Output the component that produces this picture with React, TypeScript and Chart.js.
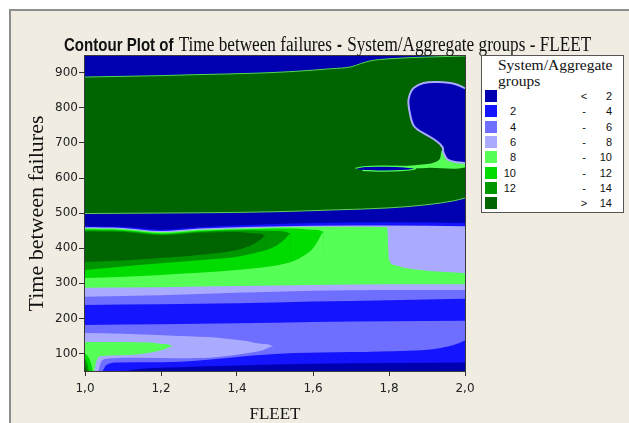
import React, { useEffect, useRef } from 'react';
import { Chart, registerables } from 'chart.js';

Chart.register(...registerables);

type Pt = [number, number];

// ---------- data ----------
const levelColors = ['#0000B0', '#1414FF', '#6E6EFF', '#AAAAFF', '#55FF55', '#00DC00', '#009600', '#006400'];
const legendTitleLines = ['System/Aggregate', 'groups'];
const legendLow = ['', '2', '4', '6', '8', '10', '12', ''];
const legendSep = ['<', '-', '-', '-', '-', '-', '-', '>'];
const legendHigh = ['2', '4', '6', '8', '10', '12', '14', '14'];

const xTicks = [1.0, 1.2, 1.4, 1.6, 1.8, 2.0];
const yTicks = [100, 200, 300, 400, 500, 600, 700, 800, 900];
const xLimits: Pt = [1, 2];
const yLimits: Pt = [50, 948];

// contour boundaries (x = FLEET, y = Time between failures); each fills downward
const topBlue: Pt[] = [[1.0, 948], [2.0, 948]];
const bigGreenTop: Pt[] = [[1.0, 888], [1.1, 890], [1.2, 892], [1.3, 895], [1.45, 899], [1.55, 904], [1.65, 912], [1.7, 917], [1.725, 926], [1.75, 934], [1.8, 940], [1.9, 945], [2.0, 948]];
const bigGreenBottom: Pt[] = [[1.0, 499], [1.15, 500], [1.3, 501], [1.5, 504], [1.65, 509], [1.8, 515], [1.9, 524], [1.97, 535], [2.0, 543]];
const blueBandLower: Pt[] = [[1.0, 463], [1.1, 461], [1.2, 453], [1.3, 460], [1.45, 467], [1.6, 472], [1.8, 474], [2.0, 472]];
const lavUpperTop: Pt[] = [[1.0, 460], [1.1, 458], [1.2, 449], [1.3, 456], [1.45, 461], [1.6, 464], [1.8, 465], [2.0, 463]];
const g810UpperTop: Pt[] = [[1.0, 457], [1.1, 455], [1.2, 446], [1.3, 453], [1.45, 458], [1.6, 461], [1.7, 461], [1.795, 460], [1.8, 368], [1.815, 352], [1.84, 344], [1.9, 336], [1.95, 332], [2.0, 329]];
const g1012Top: Pt[] = [[1.0, 454], [1.1, 452], [1.2, 443], [1.3, 450], [1.45, 455], [1.55, 456], [1.6, 453], [1.627, 447], [1.63, 50], [2.0, 50]];
const g1214Top: Pt[] = [[1.0, 451], [1.1, 449], [1.2, 440], [1.3, 447], [1.4, 451], [1.5, 449], [1.54, 442], [1.543, 50], [2.0, 50]];
const g14Top: Pt[] = [[1.0, 448], [1.1, 446], [1.2, 437], [1.3, 444], [1.4, 446], [1.45, 442], [1.474, 437], [1.477, 50], [2.0, 50]];
const g14Bottom: Pt[] = [[1.0, 361], [1.1, 365], [1.2, 372], [1.3, 381], [1.4, 395], [1.44, 410], [1.465, 427], [1.474, 436], [1.481, 50], [2.0, 50]];
const g1214Bottom: Pt[] = [[1.0, 338], [1.1, 348], [1.2, 357], [1.3, 366], [1.4, 376], [1.45, 387], [1.5, 405], [1.525, 425], [1.54, 440], [1.547, 50], [2.0, 50]];
const g1012Bottom: Pt[] = [[1.0, 315], [1.1, 319], [1.2, 324], [1.3, 330], [1.4, 338], [1.48, 347], [1.54, 360], [1.57, 375], [1.6, 400], [1.615, 425], [1.627, 445], [1.634, 50], [2.0, 50]];
const g810LowerBottom: Pt[] = [[1.0, 287], [1.2, 289], [1.4, 292], [1.6, 295], [1.8, 297], [2.0, 297]];
const lavMidBottom: Pt[] = [[1.0, 262], [1.2, 266], [1.4, 273], [1.6, 279], [1.8, 281], [2.0, 281]];
const blueMidTop: Pt[] = [[1.0, 238], [1.2, 240], [1.4, 243], [1.6, 248], [1.8, 252], [2.0, 256]];
const blueMidBottom: Pt[] = [[1.0, 181], [1.2, 183], [1.4, 186], [1.6, 190], [1.8, 192], [2.0, 193]];
const lavLobeTop: Pt[] = [[1.0, 158], [1.1, 156], [1.25, 150], [1.35, 145], [1.42, 136], [1.47, 127], [1.493, 121], [1.496, 50], [2.0, 50]];
const greenLobeTop: Pt[] = [[1.0, 133], [1.1, 133], [1.17, 131], [1.205, 127], [1.229, 121], [1.232, 50], [2.0, 50]];
const cornerG1012: Pt[] = [[1.0, 100], [1.007, 93], [1.014, 78], [1.019, 58], [1.021, 50], [2.0, 50]];
const cornerG1214: Pt[] = [[1.0, 85], [1.005, 74], [1.009, 58], [1.011, 50], [2.0, 50]];
const cornerG14: Pt[] = [[1.0, 68], [1.003, 58], [1.005, 50], [2.0, 50]];
const greenLobeBottom: Pt[] = [[1.0, 50], [1.024, 50], [1.03, 78], [1.04, 92], [1.1, 95], [1.17, 102], [1.21, 112], [1.229, 120], [1.236, 50], [2.0, 50]];
const lavLobeBottom: Pt[] = [[1.0, 50], [1.034, 50], [1.042, 75], [1.055, 85], [1.12, 88], [1.25, 86], [1.35, 90], [1.43, 101], [1.47, 110], [1.493, 120], [1.5, 50], [2.0, 50]];
const blueLowTop: Pt[] = [[1.0, 50], [1.045, 50], [1.055, 66], [1.085, 74], [1.2, 75], [1.3, 80], [1.45, 95], [1.55, 101], [1.7, 104], [1.85, 108], [1.92, 113], [1.97, 124], [2.0, 137]];
const darkBlueLowTop: Pt[] = [[1.0, 50], [1.1, 50], [1.14, 56], [1.25, 61], [1.4, 66], [1.6, 71], [1.8, 73], [2.0, 74]];

// closed regions inside the upper green area
const rightWedge: Pt[] = [[1.72, 629], [1.8, 634], [1.88, 638], [1.93, 650], [1.94, 680], [1.955, 690], [1.96, 660], [2.0, 652], [2.0, 630], [1.9, 629], [1.8, 625], [1.72, 626]];
const rightBlob: Pt[] = [[2.0, 856], [1.98, 866], [1.962, 871], [1.928, 874], [1.891, 871], [1.864, 856], [1.854, 836], [1.851, 814], [1.856, 779], [1.864, 751], [1.877, 737], [1.901, 722], [1.928, 703], [1.941, 688], [1.943, 674], [1.949, 660], [1.957, 651], [1.98, 645], [2.0, 643]];
const sliver: Pt[] = [[1.711, 628], [1.74, 633], [1.79, 634], [1.84, 632], [1.87, 627], [1.83, 621], [1.77, 620], [1.73, 622]];

type Layer = { pts: Pt[]; level: number; shape?: boolean; edge?: string; edgeWidth?: number };

const layers: Layer[] = [
  { pts: topBlue, level: 0 },
  { pts: bigGreenTop, level: 7, edge: '#4FD84F', edgeWidth: 1 },
  { pts: bigGreenBottom, level: 0, edge: '#5CCF5C', edgeWidth: 1 },
  { pts: blueBandLower, level: 1 },
  { pts: lavUpperTop, level: 3 },
  { pts: g810UpperTop, level: 4 },
  { pts: g1012Top, level: 5 },
  { pts: g1214Top, level: 6 },
  { pts: g14Top, level: 7 },
  { pts: g14Bottom, level: 6 },
  { pts: g1214Bottom, level: 5 },
  { pts: g1012Bottom, level: 4 },
  { pts: g810LowerBottom, level: 3 },
  { pts: lavMidBottom, level: 2 },
  { pts: blueMidTop, level: 1 },
  { pts: blueMidBottom, level: 2 },
  { pts: lavLobeTop, level: 3 },
  { pts: greenLobeTop, level: 4 },
  { pts: cornerG1012, level: 5 },
  { pts: cornerG1214, level: 6 },
  { pts: cornerG14, level: 7 },
  { pts: greenLobeBottom, level: 3 },
  { pts: lavLobeBottom, level: 2 },
  { pts: blueLowTop, level: 1 },
  { pts: darkBlueLowTop, level: 0 },
  { pts: rightWedge, level: 4, shape: true },
  { pts: rightBlob, level: 0, shape: true, edge: '#AAAAFF', edgeWidth: 2 },
  { pts: sliver, level: 0, shape: true, edge: '#55FF55', edgeWidth: 1.2 },
];

const framePlugin = {
  id: 'plotFrame',
  afterDatasetsDraw(chart: any) {
    const { ctx, chartArea: a } = chart;
    ctx.save();
    ctx.strokeStyle = '#3a3a3a';
    ctx.lineWidth = 1;
    ctx.strokeRect(a.left - 0.5, a.top - 0.5, a.right - a.left + 1, a.bottom - a.top + 1);
    ctx.restore();
  },
};

const serif = '"Liberation Serif", "Times New Roman", serif';
const sans = '"DejaVu Sans", Verdana, sans-serif';
const lsans = '"Liberation Sans", Arial, sans-serif';

export default function App() {
  const canvasRef = useRef<HTMLCanvasElement | null>(null);

  useEffect(() => {
    const canvas = canvasRef.current;
    if (!canvas) return;
    const n = layers.length;
    const datasets = layers.map((L, i) => ({
      type: 'line' as const,
      data: L.pts.map(([x, y]) => ({ x, y })),
      backgroundColor: levelColors[L.level],
      borderColor: L.edge ? L.edge : 'rgba(0,0,0,0)',
      borderWidth: L.edge ? (L.edgeWidth as number) : 0,
      pointRadius: 0,
      pointHoverRadius: 0,
      fill: L.shape ? 'shape' : 'start',
      tension: L.shape ? 0.4 : 0,
      cubicInterpolationMode: L.shape ? 'default' : 'monotone',
      order: n - i,
    }));

    const chart = new Chart(canvas, {
      type: 'line',
      data: { datasets: datasets as any },
      options: {
        animation: false,
        responsive: false,
        events: [],
        layout: { padding: { left: 0, top: 56, right: 164, bottom: 0 } },
        plugins: { legend: { display: false }, tooltip: { enabled: false }, title: { display: false } },
        scales: {
          x: {
            type: 'linear',
            min: xLimits[0],
            max: xLimits[1],
            afterBuildTicks: (s: any) => { s.ticks = xTicks.map((v) => ({ value: v })); },
            afterFit: (s: any) => { s.height = 52; },
            ticks: {
              callback: (v: any) => Number(v).toFixed(1).replace('.', ','),
              font: { family: sans, size: 12 },
              color: '#222',
              padding: 6,
              maxRotation: 0,
            },
            grid: { drawOnChartArea: false, drawTicks: true, tickLength: 5, color: '#333' },
            border: { display: false },
            title: { display: true, text: 'FLEET', font: { family: serif, size: 17, lineHeight: 1 }, color: '#111', padding: { top: 0, bottom: 0 } },
          },
          y: {
            type: 'linear',
            min: yLimits[0],
            max: yLimits[1],
            afterBuildTicks: (s: any) => { s.ticks = yTicks.map((v) => ({ value: v })); },
            afterFit: (s: any) => { s.width = 85; },
            ticks: {
              callback: (v: any) => String(v),
              font: { family: sans, size: 12 },
              color: '#222',
              padding: 1,
            },
            grid: { drawOnChartArea: false, drawTicks: true, tickLength: 6, color: '#333' },
            border: { display: false },
            title: { display: true, text: 'Time between failures', font: { family: serif, size: 22 }, color: '#111', padding: { top: 24, bottom: 0 } },
          },
        },
      },
      plugins: [framePlugin],
    } as any);
    return () => chart.destroy();
  }, []);

  return (
    <div style={{ position: 'fixed', left: 0, top: 0, width: 629, height: 423, background: '#ffffff', overflow: 'hidden' }}>
      <div style={{ position: 'absolute', left: 9, top: 9, width: 640, height: 440, background: '#F0ECE2', borderLeft: '2px solid #8e8e8e', borderTop: '2px solid #8e8e8e' }} />
      <canvas ref={canvasRef} width={629} height={423} style={{ position: 'absolute', left: 0, top: 0, width: 629, height: 423 }} />
      <div style={{ position: 'absolute', left: 64, top: 32, whiteSpace: 'nowrap', transform: 'scaleX(0.86)', transformOrigin: 'left top', lineHeight: '24px', color: '#111' }}>
        <span style={{ fontFamily: lsans, fontWeight: 'bold', fontSize: 17.5 }}>Contour Plot of</span>
        <span style={{ fontFamily: serif, fontSize: 20, marginLeft: 6 }}>Time between failures</span>
        <span style={{ fontFamily: lsans, fontWeight: 'bold', fontSize: 17.5, marginLeft: 6 }}>-</span>
        <span style={{ fontFamily: serif, fontSize: 20, marginLeft: 6 }}>System/Aggregate groups - FLEET</span>
      </div>
      <div style={{ position: 'absolute', left: 481, top: 55, width: 143, height: 158, background: '#ffffff', border: '1px solid #555', boxSizing: 'border-box', color: '#111' }}>
        <div style={{ position: 'absolute', left: 16, top: 1, fontFamily: serif, fontSize: 15.5, lineHeight: '16px', whiteSpace: 'nowrap' }}>
          {legendTitleLines.map((t, i) => (<div key={i}>{t}</div>))}
        </div>
        {levelColors.map((c, i) => {
          const top = 34 + i * 15.3;
          return (
            <React.Fragment key={i}>
              <div style={{ position: 'absolute', left: 3, top, width: 12, height: 12, background: c }} />
              <div style={{ position: 'absolute', left: 0, top, width: 34, height: 12, lineHeight: '12px', textAlign: 'right', fontFamily: lsans, fontSize: 11 }}>{legendLow[i]}</div>
              <div style={{ position: 'absolute', left: 92, top, width: 20, height: 12, lineHeight: '12px', textAlign: 'center', fontFamily: lsans, fontSize: 11 }}>{legendSep[i]}</div>
              <div style={{ position: 'absolute', left: 100, top, width: 30, height: 12, lineHeight: '12px', textAlign: 'right', fontFamily: lsans, fontSize: 11 }}>{legendHigh[i]}</div>
            </React.Fragment>
          );
        })}
      </div>
    </div>
  );
}
